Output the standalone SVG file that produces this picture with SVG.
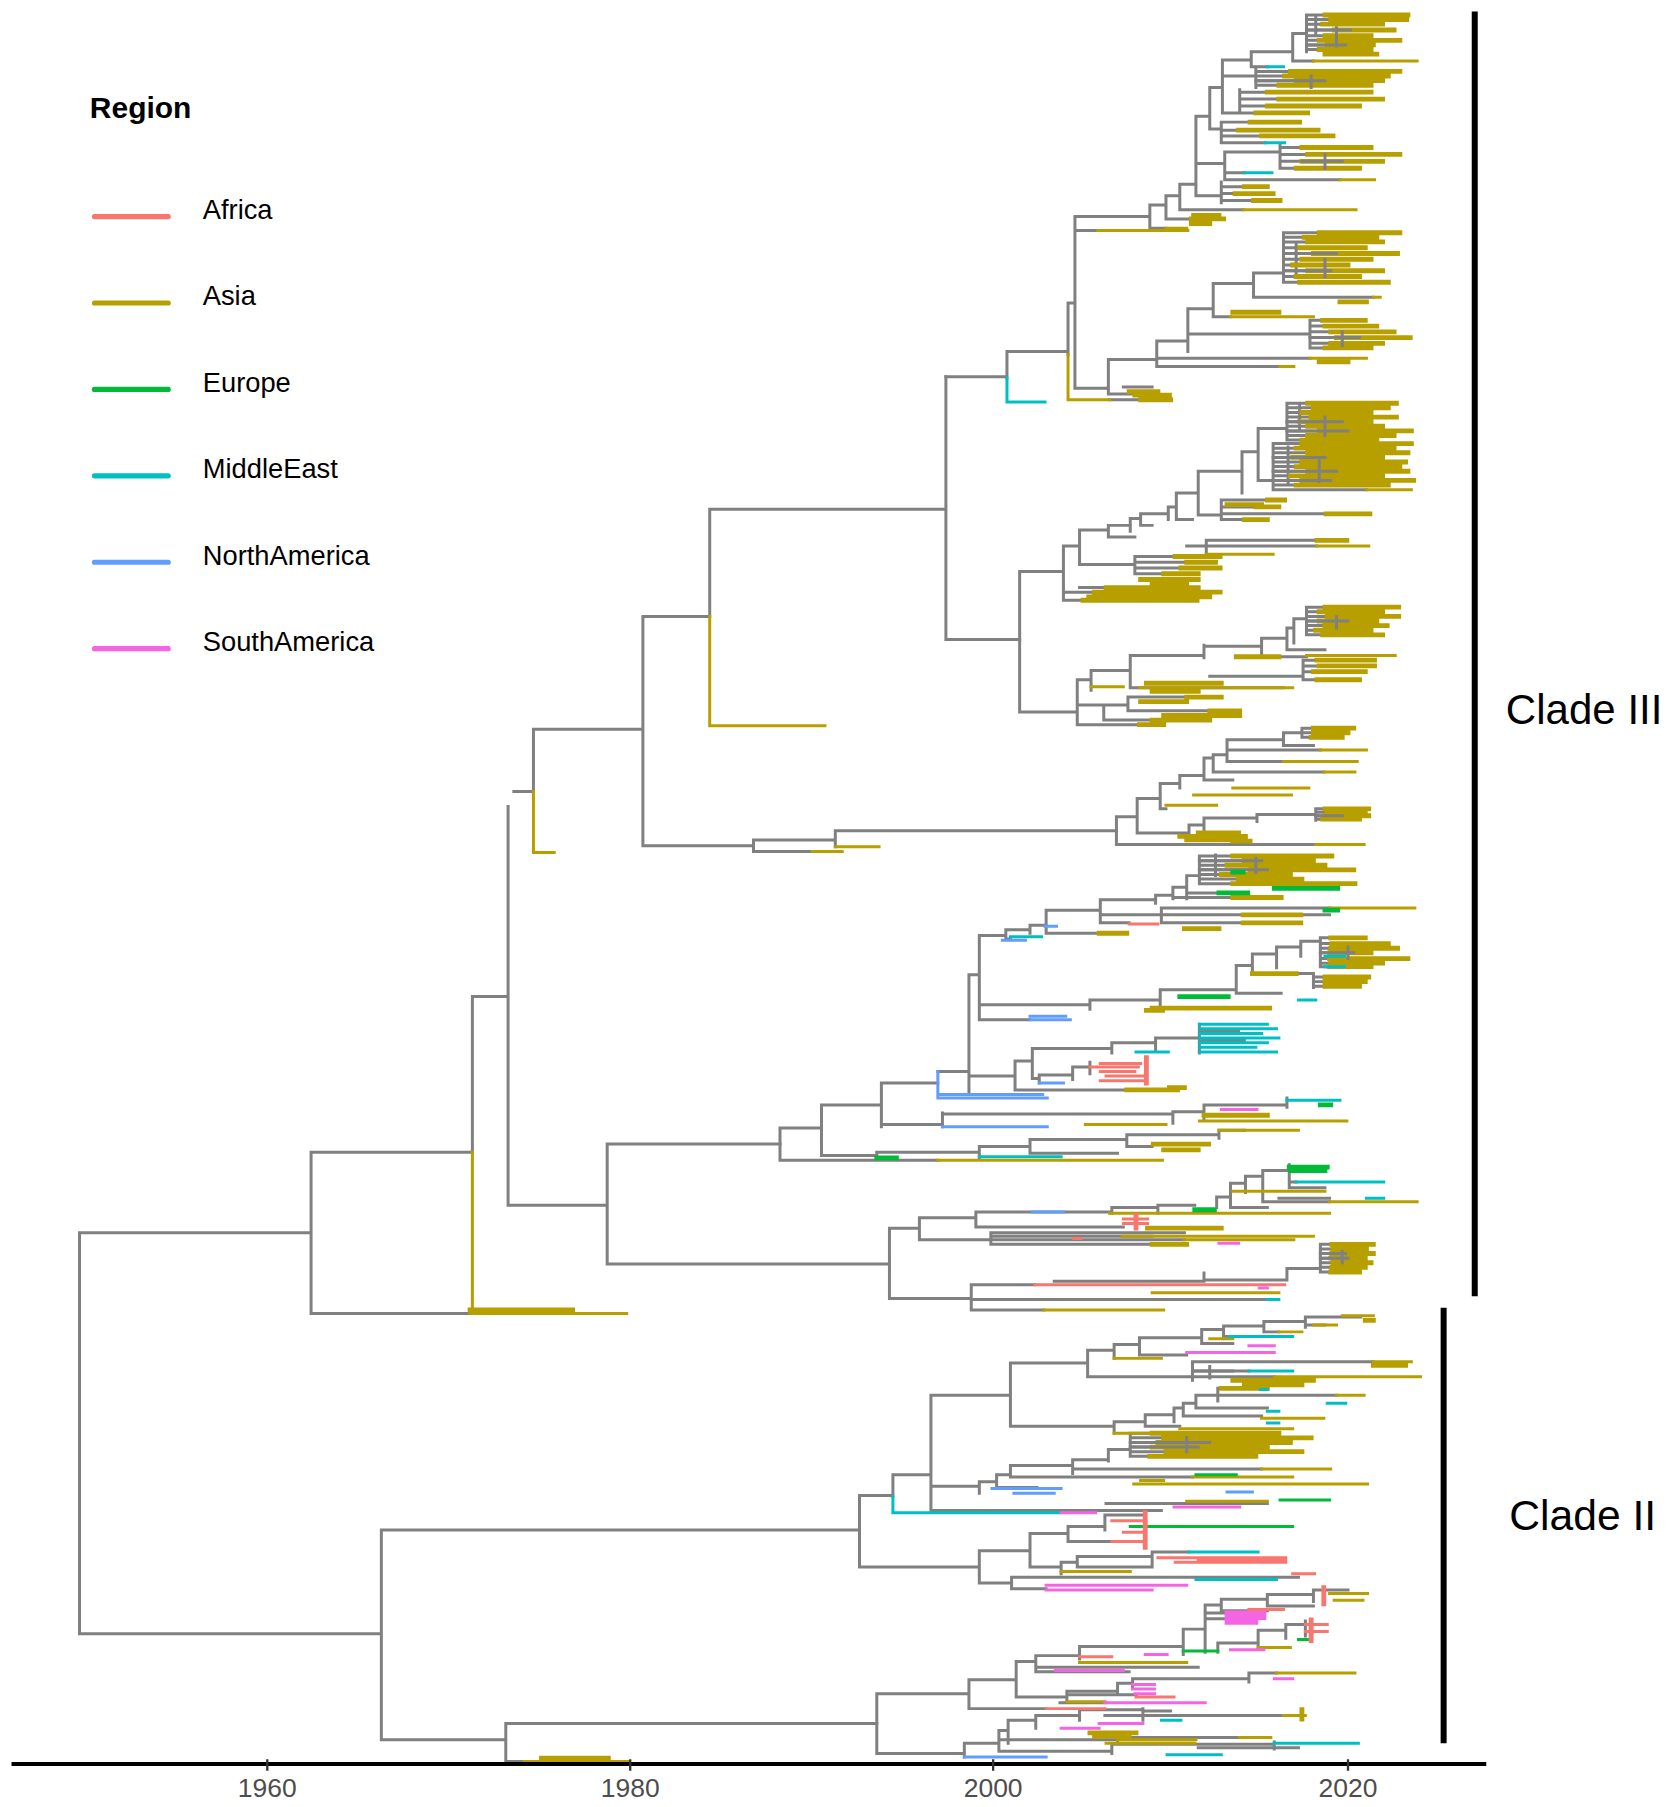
<svg xmlns="http://www.w3.org/2000/svg" width="1666" height="1807" viewBox="0 0 1666 1807">
<style>
.t path{fill:none;stroke-linecap:square;stroke-width:2.6}
.g{stroke:#808080}.y{stroke:#B79F00}.r{stroke:#F8766D}.e{stroke:#00BA38}.c{stroke:#00BFC4}.b{stroke:#619CFF}.p{stroke:#F564E3}
.t path.k{stroke-width:4.2}
text{font-family:"Liberation Sans",Arial,Helvetica,sans-serif}
.lg{fill:none;stroke-width:4.5;stroke-linecap:round}
.lt{font-size:23.7px;fill:#000}
.ax{font-size:23px;fill:#4D4D4D;text-anchor:middle}
</style>
<rect width="1666" height="1807" fill="#fff"/>
<g transform="scale(1.15214)">
<g id="legend">
<text x="78" y="102" font-size="26" font-weight="bold">Region</text>
<path class="lg" stroke="#F8766D" d="M82 188H146"/>
<path class="lg" stroke="#B79F00" d="M82 263H146"/>
<path class="lg" stroke="#00BA38" d="M82 338H146"/>
<path class="lg" stroke="#00BFC4" d="M82 413H146"/>
<path class="lg" stroke="#619CFF" d="M82 488H146"/>
<path class="lg" stroke="#F564E3" d="M82 563H146"/>
<text class="lt" x="176" y="190">Africa</text>
<text class="lt" x="176" y="265">Asia</text>
<text class="lt" x="176" y="340">Europe</text>
<text class="lt" x="176" y="415">MiddleEast</text>
<text class="lt" x="176" y="490">NorthAmerica</text>
<text class="lt" x="176" y="565">SouthAmerica</text>
</g>
<g id="connectors" class="t">
<g id="backbone">
<path class="g" d="M69 1070V1418M69 1070H270M69 1418H331M270 1000V1140M270 1000H410M270 1140H408M410 865V1000M410 865H441M441 700V1046M446 687H463M463 633V687M463 633H558M558 535V734M558 535H616M616 442V535M616 442H821M821 327V555M821 555H885M558 734H654M654 729V739M654 729H725M654 739H705M725 721V735M725 721H969M441 1046H527M527 993V1097M527 993H677M527 1097H772M331 1328V1510M331 1510H439M439 1496V1529M439 1496H761M439 1529H455M331 1328H746"/>
<path class="y" d="M410 1000V1140M408 1140H544M463 687V740H481M616 535V630H716M705 739H731M725 735H763M455 1529H545"/>
<path class="y k" d="M408 1137H497M470 1526H528"/>
</g>
<g id="cladeIII-upper">
<path class="g" d="M821 327H874M874 305V328M874 305H927M927 263V308M927 263H933M933 188V337M933 188H998M933 200H953M933 337H962M998 178V198M998 198H1012M998 178H1012M1012 170V190M1012 190H1034M1012 170H1024M1024 160V182M1024 182H1079M1024 160H1038M1038 101V170M1038 170H1060M1060 158V176M1060 162H1080M1060 168H1072M1060 174H1088M1038 142H1063M1063 132V156M1063 156H1163M1063 150H1080M1063 132H1111M1111 126V146M1111 146H1125M1111 140H1130M1111 134H1135M1111 128H1130M1038 101H1050M1050 76V112M1050 112H1060M1060 106V124M1060 106H1085M1060 113H1075M1060 118H1095M1060 124H1098M1050 76H1061M1061 52V98M1061 98H1076M1076 78V98M1076 98H1090M1076 92H1100M1076 86H1110M1076 80H1100M1061 66H1090M1090 59V76M1090 62H1120M1090 66H1115M1090 70H1125M1090 74H1110M1061 52H1086M1086 45V58M1086 58H1100M1086 45H1122M1122 29V53M1122 53H1140M1122 29H1134M1134 13V45M1134 13H1150M1134 17H1155M1134 21H1148M1134 26H1158M1134 31H1150M1134 35H1145M1134 39H1152M1134 43H1145M1142 15V31M962 312V342M962 342H990M962 312H1004M1004 296V318M1004 318H1111M1004 311H1137M1004 296H1031M1031 268V305M1031 290H1137M1137 278V302M1137 302H1150M1137 298H1155M1137 293H1160M1137 288H1155M1137 283H1150M1137 278H1148M1031 268H1053M1053 246V275M1053 275H1068M1053 246H1088M1088 237V258M1088 258H1192M1088 237H1114M1114 202V245M1114 245H1128M1114 240H1125M1114 235H1135M1114 230H1122M1114 225H1130M1114 220H1140M1114 215H1128M1114 210H1135M1114 206H1132M1114 202H1145M1125 210V240M963 347H990M975 336H1000"/>
<path class="y" d="M953 200H1031M1012 198H1030M1079 182H1177M1163 156H1193M1140 53H1230M1068 275H1140M1192 258H1198M1111 318H1123M1137 311H1186M927 308V347H963"/>
<path class="y k" d="M1034 190H1062M1036 187H1058M1034 194H1050M1080 162H1100M1072 168H1105M1088 174H1111M1125 146H1180M1130 140H1200M1135 134H1215M1130 128H1190M1085 106H1128M1075 113H1144M1095 118H1157M1090 98H1135M1100 92H1180M1110 86H1200M1100 80H1190M1120 62H1215M1115 66H1205M1125 70H1200M1110 74H1190M1150 13H1222M1155 17H1221M1148 21H1200M1158 26H1210M1150 31H1190M1145 35H1215M1152 39H1192M1145 43H1190M1150 47H1195M985 343H1015M990 347H1016M980 340H1005M1145 314H1170M1150 302H1190M1155 298H1200M1160 293H1224M1155 288H1210M1150 283H1195M1148 278H1185M1070 271H1110M1163 262H1186M1128 245H1205M1125 240H1180M1135 235H1200M1122 230H1170M1130 225H1190M1140 220H1213M1128 215H1185M1135 210H1200M1132 206H1195M1145 202H1215"/>
<path class="g" d="M1134 26H1172M1134 39H1168M1160 24V40M1090 70H1150M1138 66V76M1114 220H1160M1114 235H1155M1150 225V240M1137 293H1180M1165 288V300M1130 140H1165M1150 134V146"/>
<path class="c" d="M874 328V349H907M1080 150H1104M1098 124H1115M1100 58H1114"/>
</g>
<g id="cladeIII-middle">
<path class="g" d="M885 496V618M885 496H923M923 474V521M923 474H937M937 460V490M937 460H962M962 456V466M962 456H981M981 450V461M981 450H990M990 446V456M990 446H1014M1014 440V451M1014 440H1021M1021 428V451M1021 428H1040M1040 409V447M1040 409H1078M1078 392V428M1078 392H1092M1092 372V417M1092 372H1117M1117 350V382M1117 350H1135M1117 354H1140M1117 358H1130M1117 362H1138M1117 366H1128M1117 370H1135M1117 374H1145M1117 378H1135M1117 382H1130M1128 350V372M1092 417H1105M1105 385V425M1105 385H1130M1105 389H1125M1105 393H1135M1105 397H1122M1105 401H1130M1105 405H1125M1105 409H1135M1105 413H1120M1105 417H1130M1105 421H1125M1105 425H1186M1118 388V420M1040 447H1060M1060 434V451M1060 434H1100M1060 440H1090M1060 446H1151M1060 451H1080M1021 451H1035M937 490H985M985 483V498M985 483H1020M985 488H1030M985 493H1025M985 498H1010M990 456H1000M962 466H985M1030 474H1143M1047 469H1143M1047 469V481M923 521H940M923 514H960M937 510H980M885 618H935M935 590V629M935 590H947M947 582V599M947 582H981M981 569V597M981 569H1045M1045 560V571M1045 561H1095M1095 554V570M1095 554H1117M1117 545V564M1117 545H1123M1123 537V558M1123 537H1134M1134 527V551M1134 527H1150M1134 531H1145M1134 535H1152M1134 539H1145M1134 543H1150M1134 547H1142M1134 551H1148M1117 564H1150M1095 570H1134M981 597H1114M1131 573V590M1050 587H1131M1131 573H1143M1131 578H1145M1131 583H1140M1131 590H1143M935 629H989M958 612V625M935 612H958M958 612H979M979 605V617M979 605H1030M979 617H1050M958 625H1000M969 709V733M969 709H987M987 693V723M987 693H1007M1007 680V702M1007 680H1024M1024 673V684M1024 673H1045M1045 658V677M1045 658H1053M1053 655V670M1053 655H1065M1065 642V661M1065 642H1114M1114 636V647M1114 636H1130M1130 632V640M1130 632H1140M1130 636H1140M1130 640H1138M1114 647H1140M1065 651H1146M1065 661H1114M1053 670H1149M1045 677H1070M987 723H1032M1032 716V726M1032 716H1045M1045 710V720M1045 710H1091M1091 707V713M1091 707H1142M1142 702V712M1142 702H1150M1142 705H1152M1142 708H1150M1142 711H1148M969 733H1142M1007 702H1012"/>
<path class="y" d="M1143 474H1188M1134 569H1211M947 596H975M1146 651H1186M1114 661H1178M1149 670H1176M1070 684H1136M1036 690H1121M1012 699H1056M1142 733H1184M1047 481H1105M989 597H1122M1186 425H1225"/>
<path class="y k" d="M1135 350H1212M1140 354H1205M1130 358H1190M1138 362H1212M1128 366H1190M1135 370H1200M1145 374H1225M1135 378H1210M1130 382H1195M1130 385H1225M1125 389H1210M1135 393H1222M1122 397H1200M1130 401H1220M1125 405H1215M1135 409H1222M1120 413H1200M1130 417H1227M1125 421H1205M1100 434H1115M1090 440H1110M1151 446H1189M1080 451H1100M1065 438H1095M1143 469H1169M1020 483H1059M1030 488H1055M1025 493H1059M1010 498H1040M990 503H1040M1000 506H1030M940 521H1039M945 518H1050M950 514H1059M960 510H1040M1150 527H1214M1145 531H1200M1152 535H1214M1145 539H1195M1150 543H1204M1142 547H1190M1148 551H1200M1073 570H1110M995 593H1060M1000 600H1040M1143 573H1193M1145 578H1193M1140 583H1185M1143 590H1180M989 629H1010M1000 625H1050M1030 605H1060M1050 617H1076M1010 621H1076M990 609H1030M1140 632H1175M1140 636H1170M1138 640H1165M1150 702H1188M1152 705H1185M1150 708H1188M1148 711H1180M1024 726H1081M1030 729H1070M1040 723H1075M1070 730H1085"/>
<path class="g" d="M1117 366H1165M1117 374H1170M1150 362V378M1105 397H1150M1105 409H1160M1105 417H1155M1145 400V418M1134 539H1170M1160 535V545M1142 708H1165"/>
</g>
<g id="cladeIII-lower">
<path class="g" d="M677 979V1007M677 979H713M713 959V1003M713 959H765M765 940V978M765 940H814M814 930H841M841 846V950M841 846H850M850 812V885M850 812H873M873 807V815M873 807H894M894 803V810M894 803H908M908 790V810M908 790H955M955 781V801M955 781H1003M1003 777V784M1003 777H1018M1018 770V780M1018 770H1030M1030 760V780M1030 760H1041M1041 743V767M1041 743H1070M1041 747H1080M1041 751H1065M1041 755H1085M1041 759H1060M1041 763H1075M1041 767H1070M1055 742V760M1030 775H1058M1018 779H1070M955 801H980M955 794H1008M1008 788V801M1008 794H1154M1008 788H1154M1008 801H1079M908 810H977M850 872H946M946 868V876M946 868H1007M1007 859V875M1007 859H1073M1073 838V862M1073 838H1087M1087 828V845M1087 828H1108M1108 822V840M1108 822H1129M1129 817V830M1129 817H1146M1146 814V839M1146 814H1155M1146 819H1156M1146 823H1155M1146 827H1154M1146 832H1154M1146 836H1155M1146 839H1154M1087 845H1140M1140 845V857M1140 848H1150M1140 852H1150M1140 856H1150M1073 862H1112M1007 875H1022M850 885H894M873 815H877M841 934H881M881 921V946M881 921H896M896 910V936M896 910H965M965 905V914M965 905H1003M1003 901V911M1003 901H1041M1041 889V914M1041 895H1075M1041 903H1080M896 936H902M902 933V940M902 933H931M931 926V937M931 926H946M946 922V932M881 946H978M765 976H818M818 966V978M818 967H1018M1018 965V975M1018 965H1045M1045 959V972M1045 959H1117M1117 953V961M713 1003H761M761 1000V1006M761 1000H850M850 995V1005M850 995H894M894 989V1001M894 989H978M978 985V995M978 985H1058M1058 981V988M1058 981H1080M894 1001H970M978 995H1000M677 1007H814M772 1066V1127M772 1066H798M798 1057V1076M798 1057H847M847 1052V1065M847 1052H965M965 1048V1053M965 1048H1005M1005 1046V1053M1005 1046H1037M1056 1039V1048M1056 1039H1068M1068 1027V1048M1068 1027H1081M1081 1021V1035M1081 1021H1096M1096 1016V1043M1096 1016H1119M1119 1011V1031M1119 1026H1125M1119 1031H1150M1110 1040H1154M1096 1043H1154M1068 1048H1100M847 1065H975M798 1076H860M860 1070V1080M860 1070H1028M860 1073H1000M860 1076H1028M860 1080H1020M772 1127H843M843 1115V1137M843 1115H898M915 1112H1045M1045 1105V1112M1045 1111H1117M1117 1101V1111M1117 1101H1146M1146 1080V1104M1146 1080H1156M1146 1084H1157M1146 1088H1156M1146 1092H1155M1146 1096H1157M1146 1100H1156M1146 1104H1155M843 1137H906M843 1128H1100"/>
<path class="y" d="M814 1007H1009M1154 788H1228M1041 973H1169M942 976H1012M1058 981H1127M974 1073H1140M1154 1043H1230M963 1053H1154M906 1137H1010M1000 1122H1110M1028 1076H1123M1070 1034H1150"/>
<path class="y k" d="M1070 743H1156M1080 747H1140M1065 751H1150M1085 755H1175M1060 759H1120M1075 763H1130M1070 767H1176M1070 779H1112M1079 794H1129M1079 801H1129M1028 806H1058M954 810H978M1155 814H1185M1156 819H1205M1155 823H1213M1154 827H1190M1154 832H1222M1155 836H1200M1154 839H1190M1087 845H1125M1150 848H1188M1150 852H1185M1150 856H1180M1000 875H1102M995 877H1009M978 946H1022M1015 944H1028M1045 968H1100M1001 993H1049M1010 998H1040M1156 1080H1192M1157 1084H1186M1156 1088H1192M1155 1092H1185M1157 1096H1190M1156 1100H1185M1155 1104H1180M996 1066H1060M1000 1080H1030"/>
<path class="g" d="M1041 755H1100M1041 747H1095M1090 745V757M1146 1092H1170M1146 1088H1168M1165 1086V1096M1146 827H1175M1170 822V832"/>
<path class="e k" d="M1106 771H1161M1070 757H1079M1058 775H1083M1150 790H1161M1024 865H1066M761 1005H778M1146 959H1155M1037 1050H1054M1119 1013H1152M1120 1016H1150"/>
<path class="r" d="M980 802H1005M946 926H988M955 923H990M955 930H985M960 934H995M955 938H995M975 1058H996M975 1062H996M932 1075H938M898 1115H1115"/>
<path class="r k" d="M995 918V940M986 1055V1066"/>
<path class="c" d="M1150 830H1167M1150 839H1167M1127 868H1142M877 813H904M1041 889H1100M1041 893H1108M1041 897H1095M1041 901H1110M1041 905H1100M1041 909H1090M1041 913H1108M986 913H1014M1117 955H1163M850 1004H921M1125 1026H1201M1186 1040H1201M1100 1128H1110"/>
<path class="b" d="M814 930V953M814 953H909M814 950H905M818 978H909M907 804H917M894 885H929M894 882H925M902 940H923M896 1052H923M870 816H890"/>
<path class="p" d="M1060 963H1091M1058 1079H1075M1093 1118H1100"/>
</g>
<g id="cladeII">
<path class="g" d="M746 1298V1360M746 1298H775M775 1280V1299M775 1280H808M808 1211V1311M808 1211H877M877 1183V1238M877 1183H944M944 1172V1195M944 1172H967M967 1167V1179M967 1167H989M989 1161V1176M989 1161H1043M1043 1154V1166M1043 1154H1062M1062 1151V1160M1062 1151H1097M1097 1147V1156M1097 1147H1133M1133 1143V1152M1133 1143H1181M1133 1150H1150M1097 1156H1110M1062 1160H1067M1043 1166H1070M989 1176H1030M944 1195H1035M1035 1182V1198M1035 1182H1192M1035 1190H1084M1035 1195H1106M877 1238H967M967 1234V1244M967 1234H994M994 1228V1238M994 1228H1019M1019 1222V1234M1019 1222H1027M1027 1218V1229M1027 1218H1038M1038 1211V1222M1038 1211H1057M1057 1205V1216M1057 1205H1076M1057 1211H1160M1038 1222H1100M994 1238H1024M1027 1229H1095M808 1311H1008M960 1305H1100M808 1290H850M850 1286V1296M850 1286H865M865 1280V1291M865 1280H877M877 1272V1282M877 1272H931M931 1267V1279M931 1267H962M962 1258V1268M962 1258H981M981 1244V1264M981 1244H1000M981 1248H1010M981 1252H1005M981 1256H1000M981 1260H1012M981 1264H998M931 1275H1095M877 1282H1035M865 1291H900M746 1360H850M850 1346V1374M850 1346H894M894 1331V1360M894 1331H927M927 1325V1338M927 1325H959M959 1315V1328M959 1315H994M927 1338H980M894 1360H921M921 1356V1366M921 1356H935M935 1351V1360M935 1351H1000M1000 1347V1358M1000 1347H1032M935 1360H1000M850 1374H878M878 1369V1379M878 1369H1127M878 1379H908M761 1470V1522M761 1470H841M841 1458V1483M841 1458H882M882 1442V1473M882 1442H899M899 1437V1451M899 1437H937M937 1429V1440M937 1429H1027M1027 1414V1436M1027 1414H1046M1046 1393V1434M1046 1393H1060M1060 1388V1398M1060 1388H1100M1100 1384V1394M1100 1384H1140M1140 1380V1390M1140 1380H1170M1046 1400H1065M1046 1405H1065M1060 1398H1100M1100 1394H1140M1057 1426V1434M1057 1426H1092M1092 1415V1430M1092 1415H1116M1116 1410V1422M1116 1410H1133M1133 1407V1420M899 1451H980M899 1447H1040M882 1473H926M926 1468V1477M926 1468H970M970 1461V1471M970 1461H983M983 1457V1465M983 1457H1084M1084 1452V1460M1084 1452H1108M926 1471H986M841 1483H908M920 1478H960M761 1522H837M837 1513V1525M837 1513H867M867 1502V1520M867 1502H875M875 1493V1513M875 1493H899M899 1489V1500M899 1489H937M937 1484V1493M937 1484H992M992 1483V1493M992 1485H1016M959 1489H1114M867 1510H970M970 1506V1512M970 1508H1076M867 1520H965M965 1514V1522M965 1514H1106M1106 1512V1518M1040 1517H1127"/>
<path class="y" d="M1165 1142H1192M1110 1156H1130M1140 1150H1160M967 1179H1008M1192 1182H1225M1106 1195H1233M1160 1211H1184M1095 1231H1149M1024 1240H1122M967 1244H1016M1030 1303H1100M1095 1275H1155M1035 1282H1122M984 1288H1187M921 1364H981M1154 1383H1187M1158 1389H1183M1092 1430H1120M937 1443H1030M1108 1452H1176M926 1477H959M1114 1489H1133M970 1510H1038M1076 1508H1103M960 1513H1037M1050 1162H1070M990 1285H1010"/>
<path class="y k" d="M1070 1198H1140M1080 1202H1130M1060 1205H1100M1192 1185H1220M1076 1205H1100M1000 1244H1110M1010 1248H1138M1005 1252H1120M1000 1256H1100M1012 1260H1130M998 1264H1090M946 1504H986M950 1507H980M1130 1484V1492M1185 1146H1192"/>
<path class="g" d="M981 1256H1040M981 1252H1050M1030 1248V1260M1035 1190H1070M1050 1186V1196"/>
<path class="c" d="M775 1299V1313H921M1067 1160H1122M1084 1190H1122M1094 1206H1100M1152 1218H1168M1100 1225H1110M1100 1235H1110M1032 1347H1092M1038 1371H1108M1008 1493H1025M1106 1513H1179M1013 1523H1060"/>
<path class="p" d="M921 1313H951M1084 1168H1106M1030 1174H1106M1019 1308H1076M908 1376H1030M908 1380H1000M1068 1432H1097M994 1436H1013M916 1450H975M1106 1457H1122M983 1462H1002M983 1466H1002M985 1470H1002M959 1478H1046M954 1496H992M921 1500H954"/>
<path class="p k" d="M1065 1400H1097M1065 1404H1097M1065 1408H1090"/>
<path class="e" d="M1111 1302H1154M1038 1280H1073M981 1325H1122M1027 1433H1057M1127 1423H1138"/>
<path class="r" d="M965 1320H994M975 1330H994M965 1338H994M1005 1352H1116M1020 1356H1116M1040 1354H1116M1122 1366H1141M1084 1397H1114M1133 1410H1152M1133 1416H1152M937 1438H965M986 1473H1019M908 1483H959"/>
<path class="r k" d="M994 1313V1343M1149 1378V1392M1138 1406V1424"/>
<path class="b" d="M1065 1295H1087M861 1292H921M880 1296H915M837 1525H908"/>
</g>
</g>
<g id="clade-III-label">
<path d="M1280 10V1125" stroke="#000" stroke-width="5.2" fill="none"/>
<text x="1307" y="628" font-size="36.5">Clade III</text>
</g>
<g id="clade-II-label">
<path d="M1253 1135V1513" stroke="#000" stroke-width="5.2" fill="none"/>
<text x="1310" y="1328" font-size="37">Clade II</text>
</g>
<g id="axis">
<path d="M10 1531H1290" stroke="#000" stroke-width="3.5" fill="none"/>
<path d="M232 1527V1537M547 1527V1537M862 1527V1537M1170 1527V1537" stroke="#333" stroke-width="2" fill="none"/>
<text class="ax" x="232" y="1560">1960</text>
<text class="ax" x="547" y="1560">1980</text>
<text class="ax" x="862" y="1560">2000</text>
<text class="ax" x="1170" y="1560">2020</text>
</g>
</g>
</svg>
